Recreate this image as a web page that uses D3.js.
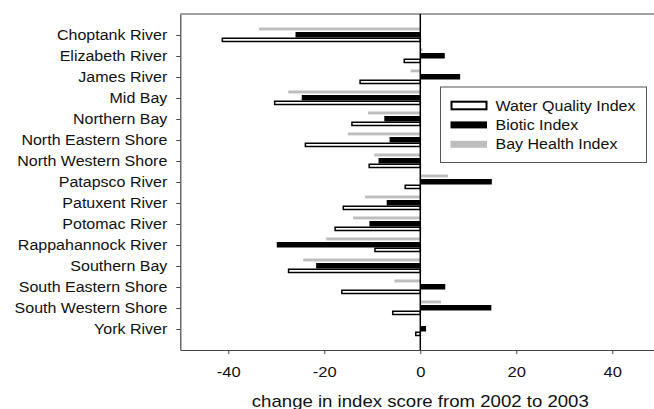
<!DOCTYPE html>
<html>
<head>
<meta charset="utf-8">
<script src="https://cdn.jsdelivr.net/npm/d3@7"></script>
<style>
  body { margin: 0; background: #fff; }
  svg { display: block; font-family: "Liberation Sans", Arial, sans-serif; }
</style>
</head>
<body>
<div id="chart"></div>
<script>
const regions = ["Choptank River", "Elizabeth River", "James River", "Mid Bay", "Northern Bay",
  "North Eastern Shore", "North Western Shore", "Patapsco River", "Patuxent River", "Potomac River",
  "Rappahannock River", "Southern Bay", "South Eastern Shore", "South Western Shore", "York River"]

const waterQuality = [-41.4, -3.5, -12.7, -30.5, -14.4, -24.1, -10.8, -3.3, -16.2, -17.9, -9.6, -27.6, -16.5, -5.9, -1.1]
const biotic = [-26.0, 5.1, 8.3, -24.7, -7.5, -6.4, -8.7, 14.9, -7.0, -10.6, -29.9, -21.7, 5.2, 14.8, 1.2]
const bayHealth = [-33.6, 0.5, -2.0, -27.5, -10.9, -15.1, -9.6, 5.8, -11.5, -14.0, -19.6, -24.4, -5.4, 4.3, 0]

const xTicks = [-40, -20, 0, 20, 40]
const seriesNames = ["Water Quality Index", "Biotic Index", "Bay Health Index"]

const width = 654, height = 409
const sx = 1.12   // the original text is a bit wider than Arial

const svg = d3.select("#chart").append("svg")
  .attr("width", width)
  .attr("height", height)

const x = d3.scaleLinear().domain([-50, 50]).range([180.3, 660.3])
const y = d3.scalePoint().domain(regions).range([14, 350]).padding(1)
// offset of each series inside a region group
const yInner = d3.scaleBand().domain(["bay", "biotic", "wq"]).range([-7.5, 7.5])
const bw = yInner.bandwidth()

// top frame line (right side runs off the picture)
svg.append("line")
  .attr("x1", x.range()[0]).attr("x2", x.range()[1])
  .attr("y1", 14).attr("y2", 14)
  .attr("stroke", "#444").attr("stroke-width", 1.2)

const g = svg.append("g")

// bay health (gray, thin)
g.selectAll(".bay").data(regions).join("rect")
  .attr("class", "bay")
  .attr("x", (d, i) => Math.min(x(0), x(bayHealth[i])))
  .attr("width", (d, i) => Math.abs(x(bayHealth[i]) - x(0)))
  .attr("y", d => y(d) + yInner("bay"))
  .attr("height", bw * 0.58)
  .attr("fill", "#bdbdbd")

// biotic (black)
g.selectAll(".bio").data(regions).join("rect")
  .attr("class", "bio")
  .attr("x", (d, i) => Math.min(x(0), x(biotic[i])))
  .attr("width", (d, i) => Math.abs(x(biotic[i]) - x(0)))
  .attr("y", d => y(d) + yInner("biotic") - 0.5)
  .attr("height", bw + 0.5)
  .attr("fill", "#000")

// water quality (white, outlined)
g.selectAll(".wq").data(regions).join("rect")
  .attr("class", "wq")
  .attr("x", (d, i) => Math.min(x(0), x(waterQuality[i])) + 0.75)
  .attr("width", (d, i) => Math.max(0, Math.abs(x(waterQuality[i]) - x(0)) - 0.75))
  .attr("y", d => y(d) + yInner("wq") + 0.75)
  .attr("height", bw - 1.75)
  .attr("fill", "#fff")
  .attr("stroke", "#000")
  .attr("stroke-width", 1.5)

// zero line
svg.append("line")
  .attr("x1", x(0)).attr("x2", x(0))
  .attr("y1", 14).attr("y2", 350)
  .attr("stroke", "#000").attr("stroke-width", 1.5)

// x axis
const xAxis = svg.append("g")
  .attr("transform", "translate(0,350)")
  .call(d3.axisBottom(x).tickValues(xTicks).tickFormat(d => String(d))
    .tickSize(4).tickSizeOuter(0).tickPadding(12.5))
xAxis.select(".domain").attr("stroke", "#444").attr("stroke-width", 1.2)
xAxis.selectAll(".tick line").attr("stroke", "#444")
xAxis.selectAll(".tick text")
  .attr("font-size", "14.8px").attr("fill", "#111")
  .attr("transform", `scale(${sx},1)`)

// y axis
const yAxis = svg.append("g")
  .attr("transform", "translate(180.3,0)")
  .call(d3.axisLeft(y).tickSize(4).tickSizeOuter(0).tickPadding(7.6))
yAxis.select(".domain").attr("stroke", "#444").attr("stroke-width", 1.2)
yAxis.selectAll(".tick line").attr("stroke", "#444")
yAxis.selectAll(".tick text")
  .attr("font-size", "14.3px").attr("fill", "#111")
  .attr("transform", `scale(${sx},1)`)

// axis title
svg.append("text")
  .attr("transform", `translate(${x(0)},406.5) scale(1.17,1)`)
  .attr("text-anchor", "middle")
  .attr("font-size", "15.9px")
  .attr("fill", "#111")
  .text("change in index score from 2002 to 2003")

// legend
const legend = svg.append("g").attr("transform", "translate(440.5,87)")
legend.append("rect")
  .attr("width", 206).attr("height", 75.5)
  .attr("fill", "#fff").attr("stroke", "#555").attr("stroke-width", 1)

const rows = legend.selectAll(".row").data(seriesNames).join("g")
  .attr("class", "row")
  .attr("transform", (d, i) => `translate(0,${18.5 + i * 19.4})`)

rows.append("rect")
  .attr("x", (d, i) => i === 0 ? 11 : 10)
  .attr("width", (d, i) => i === 0 ? 35 : 36.5)
  .attr("y", (d, i) => i === 0 ? -3.8 : -3.5)
  .attr("height", (d, i) => i === 0 ? 7.6 : 7)
  .attr("fill", (d, i) => ["#fff", "#000", "#bdbdbd"][i])
  .attr("stroke", (d, i) => i === 0 ? "#000" : "none")
  .attr("stroke-width", 2)

rows.append("text")
  .attr("transform", `translate(55,0) scale(${sx},1)`)
  .attr("dy", "0.35em")
  .attr("font-size", "14.3px")
  .attr("fill", "#111")
  .text(d => d)
</script>
</body>
</html>
